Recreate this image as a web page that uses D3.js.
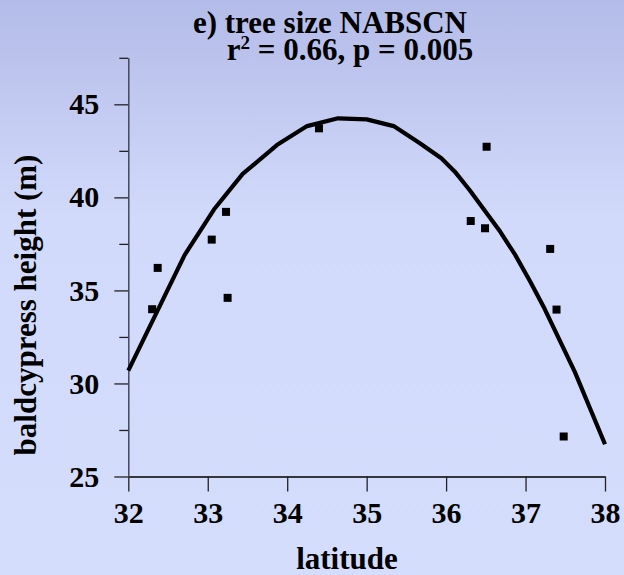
<!DOCTYPE html>
<html>
<head>
<meta charset="utf-8">
<script src="https://cdn.jsdelivr.net/npm/d3@7"></script>
<style>
  html, body { margin: 0; padding: 0; background: #d4dcfc; }
  svg { display: block; }
</style>
</head>
<body>
<svg id="chart" width="624" height="575"></svg>
<script>
// observed sites
var latitude = [32.30, 32.37, 33.05, 33.23, 33.25, 34.40, 36.31, 36.49, 36.51, 37.31, 37.39, 37.48];
var height   = [33.99, 36.21, 37.73, 39.22, 34.60, 43.71, 38.73, 38.34, 42.72, 37.23, 33.97, 27.15];

// fitted curve
var fitLat    = [32.00, 32.71, 33.08, 33.44, 33.87, 34.25, 34.64, 35.00, 35.34, 35.67, 35.94, 36.11, 36.30, 36.49, 36.68, 36.87, 37.06, 37.24, 37.62, 38.00];
var fitHeight = [30.69, 36.91, 39.36, 41.26, 42.81, 43.83, 44.25, 44.19, 43.83, 42.91, 42.10, 41.38, 40.37, 39.27, 38.16, 36.91, 35.47, 34.01, 30.62, 26.73];

var xTicks = [32, 33, 34, 35, 36, 37, 38];
var yTicks = [25, 30, 35, 40, 45];
var yMinorTicks = [27.5, 32.5, 37.5, 42.5, 47.5];

var FONT = "'Liberation Serif', 'Times New Roman', Times, 'DejaVu Serif', serif";

var svg = d3.select("#chart");

var defs = svg.append("defs");
var grad = defs.append("linearGradient").attr("id", "bg").attr("x1", 0).attr("y1", 0).attr("x2", 0).attr("y2", 1);
grad.append("stop").attr("offset", "0").attr("stop-color", "#b3bbe8");
grad.append("stop").attr("offset", "0.38").attr("stop-color", "#d2dafb");
grad.append("stop").attr("offset", "1").attr("stop-color", "#d5ddfd");
svg.append("rect").attr("width", 624).attr("height", 575).attr("fill", "url(#bg)");

var x = d3.scaleLinear().domain([32, 38]).range([128.3, 605]);
var y = d3.scaleLinear().domain([25, 47.5]).range([476.5, 57.8]);

function styleText(sel, size) {
  sel.style("font-family", FONT).style("font-weight", "bold").style("font-size", size + "px").attr("fill", "#000");
}

// x axis
var xAxis = svg.append("g").attr("transform", "translate(0," + y(25) + ")")
  .call(d3.axisBottom(x).tickValues(xTicks).tickSize(15).tickSizeOuter(0).tickPadding(10).tickFormat(d3.format("d")));
xAxis.select(".domain").attr("stroke", "#000").attr("stroke-width", 1.5);
xAxis.selectAll(".tick line").attr("stroke", "#222").attr("stroke-width", 1.3);
styleText(xAxis.selectAll("text"), 30);

// y axis, minor ticks then major
var yMinor = svg.append("g").attr("transform", "translate(" + x(32) + ",0)")
  .call(d3.axisLeft(y).tickValues(yMinorTicks).tickSize(9).tickSizeOuter(0).tickFormat(""));
yMinor.select(".domain").attr("stroke", "#44465e").attr("stroke-width", 1.5);
yMinor.selectAll(".tick line").attr("stroke", "#222").attr("stroke-width", 1.3);

var yAxis = svg.append("g").attr("transform", "translate(" + x(32) + ",0)")
  .call(d3.axisLeft(y).tickValues(yTicks).tickSize(14).tickSizeOuter(0).tickPadding(15).tickFormat(d3.format("d")));
yAxis.select(".domain").remove();
yAxis.selectAll(".tick line").attr("stroke", "#222").attr("stroke-width", 1.3);
styleText(yAxis.selectAll("text"), 30);

// fitted curve
var fit = fitLat.map(function (d, i) { return [d, fitHeight[i]]; });
svg.append("path").datum(fit)
  .attr("d", d3.line().x(function (d) { return x(d[0]); }).y(function (d) { return y(d[1]); }))
  .attr("fill", "none").attr("stroke", "#000").attr("stroke-width", 4.2).attr("stroke-linejoin", "round");

// points
var pts = latitude.map(function (d, i) { return { lat: d, h: height[i] }; });
var sz = 8;
svg.append("g").selectAll("rect").data(pts).enter().append("rect")
  .attr("x", function (d) { return x(d.lat) - sz / 2; })
  .attr("y", function (d) { return y(d.h) - sz / 2; })
  .attr("width", sz).attr("height", sz)
  .attr("fill", "#000");

// titles
var t1 = svg.append("text").attr("x", 330).attr("y", 33).attr("text-anchor", "middle").text("e) tree size NABSCN");
styleText(t1, 31);
var t2 = svg.append("text").attr("x", 350).attr("y", 60).attr("text-anchor", "middle");
styleText(t2, 31);
t2.append("tspan").text("r");
t2.append("tspan").attr("dy", -11).style("font-size", "19px").text("2");
t2.append("tspan").attr("dy", 11).text(" = 0.66, p = 0.005");

var xl = svg.append("text").attr("x", 347).attr("y", 569).attr("text-anchor", "middle").text("latitude");
styleText(xl, 31);
var yl = svg.append("text").attr("transform", "translate(36,305) rotate(-90)").attr("text-anchor", "middle").text("baldcypress height (m)");
styleText(yl, 31);
</script>
</body>
</html>
